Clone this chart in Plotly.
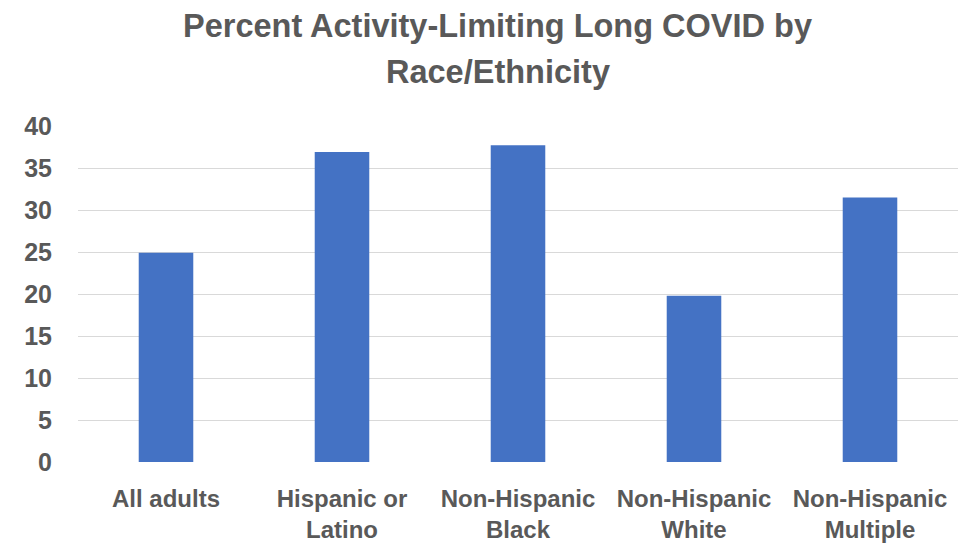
import plotly.graph_objects as go

categories = ["All adults", "Hispanic or<br>Latino", "Non-Hispanic<br>Black", "Non-Hispanic<br>White", "Non-Hispanic<br>Multiple"]
values = [24.9, 36.9, 37.7, 19.8, 31.5]
y_ticks = [0, 5, 10, 15, 20, 25, 30, 35, 40]
title_line1 = "Percent Activity-Limiting Long COVID by"
title_line2 = "Race/Ethnicity"

fig = go.Figure(go.Bar(x=categories, y=values, marker=dict(color="#4472C4", line=dict(width=0))))

font_family = "Liberation Sans, Arial, sans-serif"
grey = "#595959"
title_center_px = 497.5
fig.update_layout(
    width=971, height=547,
    margin=dict(l=78, r=13, t=126, b=85),
    paper_bgcolor="white", plot_bgcolor="white",
    bargap=0.69,
    showlegend=False,
    title=dict(text="<b>" + title_line1 + "</b>",
               x=title_center_px / 971, xanchor="center", y=1 - 26 / 547, yref="container", yanchor="middle",
               font=dict(family=font_family, size=32.5, color=grey)),
    annotations=[dict(text="<b>" + title_line2 + "</b>", xref="paper", yref="paper",
                      x=(title_center_px - 78) / 880, xanchor="center", y=1 + (126 - 72) / 336, yanchor="middle",
                      showarrow=False, font=dict(family=font_family, size=32.5, color=grey))],
    font=dict(family=font_family, color=grey),
)
fig.update_xaxes(showgrid=False, showline=False, zeroline=False, ticks="", ticklabelstandoff=20,
                 automargin=False,
                 tickfont=dict(family=font_family, size=24, color=grey, weight="bold"))
fig.update_yaxes(range=[0, 40], tickvals=y_ticks, showgrid=True, gridcolor="#d9d9d9", gridwidth=1.3,
                 zeroline=False, showline=False, ticks="", ticklabelstandoff=25, automargin=False,
                 tickfont=dict(family=font_family, size=25, color=grey, weight="bold"))
fig.write_html("out.html")
